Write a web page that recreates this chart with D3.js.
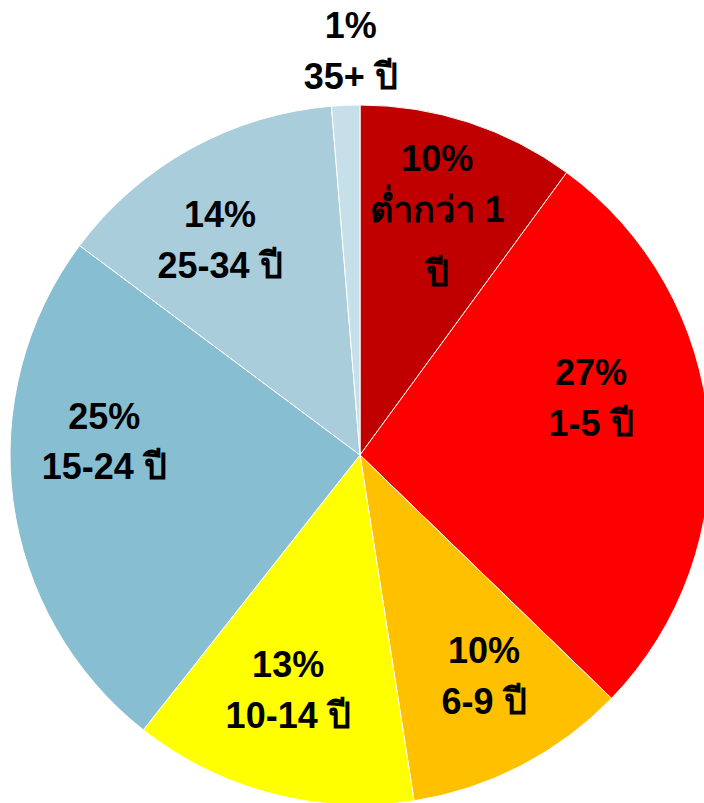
<!DOCTYPE html>
<html>
<head>
<meta charset="utf-8">
<script src="https://cdn.jsdelivr.net/npm/d3@7"></script>
<style>
  html, body { margin: 0; padding: 0; background: #fff; overflow: hidden; }
</style>
</head>
<body>
<div id="chart"></div>
<script>
const width = 704;
const height = 803;

// age groups, clockwise from 12 o'clock
const groups = ["ต่ำกว่า 1 ปี", "1-5 ปี", "6-9 ปี", "10-14 ปี", "15-24 ปี", "25-34 ปี", "35+ ปี"];
const shares = [10.06, 27.2, 10.3, 13.1, 24.6, 13.5, 1.3];
const pctLabels = ["10%", "27%", "10%", "13%", "25%", "14%", "1%"];
const nameLines = [["ต่ำกว่า 1", "ปี"], ["1-5 ปี"], ["6-9 ปี"], ["10-14 ปี"], ["15-24 ปี"], ["25-34 ปี"], ["35+ ปี"]];
const colors = ["#C00000", "#FF0000", "#FFC000", "#FFFF00", "#87BED2", "#AACDDC", "#C6DFE8"];

// layout: where excel dropped each label, relative to the arc centroid
const labelNudge = [[-1, -57], [-20, -61], [8, -28], [-8, -34], [-6, -72], [-18, -20], [7, -34]];

const cx = 360, cy = 455, radius = 350;

const data = groups.map((g, i) => ({name: g, value: shares[i], pct: pctLabels[i], lines: nameLines[i], color: colors[i], nudge: labelNudge[i]}));

const svg = d3.select("#chart")
  .append("svg")
  .attr("width", width)
  .attr("height", height)
  .attr("viewBox", [0, 0, width, height]);

const pie = d3.pie().sort(null).value(d => d.value);
const arcs = pie(data);

const arc = d3.arc().innerRadius(0).outerRadius(radius);

const g = svg.append("g").attr("transform", "translate(" + cx + "," + cy + ")");

g.selectAll("path")
  .data(arcs)
  .join("path")
    .attr("d", arc)
    .attr("fill", d => d.data.color)
    .attr("stroke", "#fff")
    .attr("stroke-width", 1);

// label radius: inside for big slices, outside for the tiny one
function labelArc(d) {
  const r = (d.endAngle - d.startAngle) < 0.2 ? radius * 1.13 : radius * 0.72;
  return d3.arc().innerRadius(r).outerRadius(r);
}

const lineH = 51;
const thaiUpper = /[\u0E48-\u0E4B\u0E33]/;

const labels = g.selectAll("text.lbl")
  .data(arcs)
  .join("text")
    .attr("class", "lbl")
    .attr("transform", d => {
      const c = labelArc(d).centroid(d);
      return "translate(" + (c[0] + d.data.nudge[0]) + "," + (c[1] + d.data.nudge[1]) + ")";
    })
    .attr("text-anchor", "middle")
    .attr("font-family", "'Liberation Sans', Arial, sans-serif")
    .attr("font-weight", "bold")
    .attr("font-size", "36px")
    .attr("fill", "#000");

labels.each(function(d) {
  const rows = [d.data.pct].concat(d.data.lines);
  const t = d3.select(this);
  let y = 0;
  rows.forEach((row, i) => {
    if (i > 0) {
      // rows under stacked thai marks sit a little lower
      y += lineH + (thaiUpper.test(rows[i - 1]) ? 13 : 0);
    }
    t.append("tspan")
      .attr("x", 0)
      .attr("y", y)
      .attr("dy", "0.35em")
      .text(row);
  });
});
</script>
</body>
</html>
